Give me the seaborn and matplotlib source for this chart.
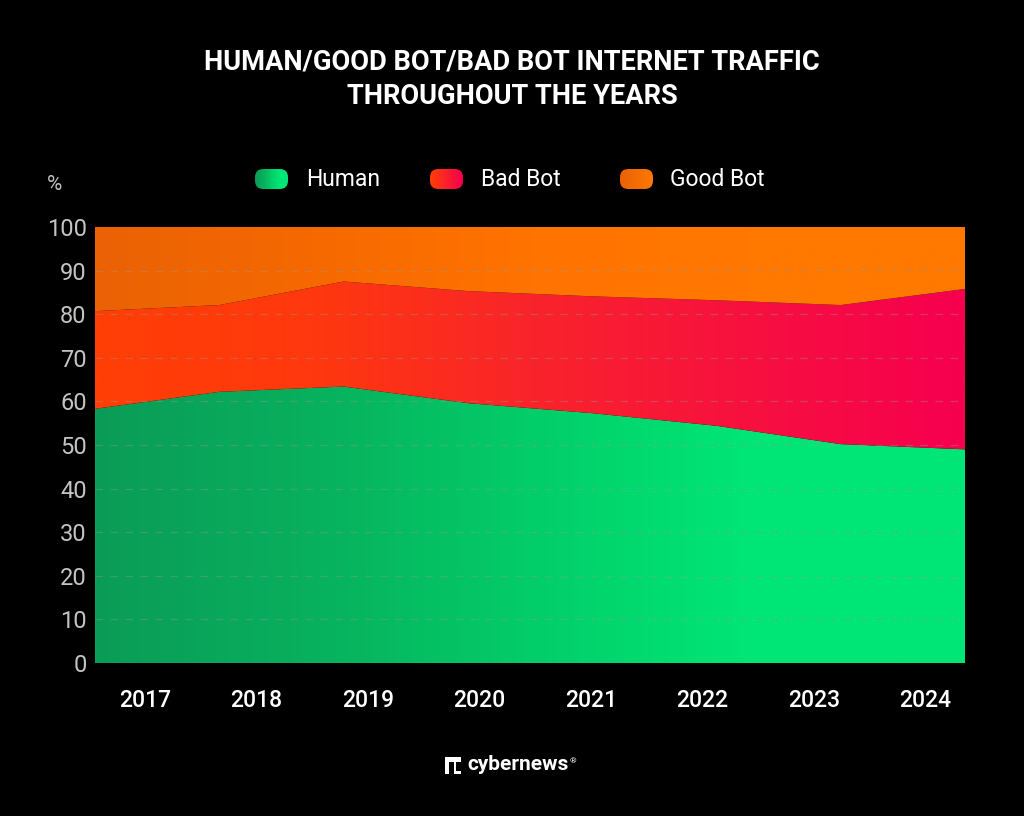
import numpy as np
import matplotlib
matplotlib.use("Agg")
import matplotlib.pyplot as plt
import seaborn as sns
from matplotlib.colors import LinearSegmentedColormap
from matplotlib.patches import FancyBboxPatch, Rectangle

# Data
years = ["2017", "2018", "2019", "2020", "2021", "2022", "2023", "2024"]
human = [58.3, 62.2, 63.4, 59.6, 57.3, 54.4, 50.2, 49.0]
bad_bot = [22.4, 19.9, 24.1, 25.7, 26.8, 28.8, 31.9, 36.8]
good_bot = [round(100 - h - b, 1) for h, b in zip(human, bad_bot)]
series_names = ["Human", "Bad Bot", "Good Bot"]
yticks = list(range(0, 101, 10))

# Gradient colours per series (left -> right)
grad_human = ["#0b9c56", "#08b05d", "#03cd69", "#00e676", "#00e676"]
grad_bad = ["#ff3f06", "#ff380e", "#f9242a", "#f7103f", "#f6004f"]
grad_good = ["#ea6206", "#f66900", "#ff7300", "#ff7800", "#ff7800"]
gradients = [grad_human, grad_bad, grad_good]

sns.set_theme(style="dark")
plt.rcParams['font.family'] = ['Roboto', 'DejaVu Sans']

fig = plt.figure(figsize=(10.24, 8.16), dpi=100, facecolor="black")
ax = fig.add_axes([95 / 1024, 1 - 663 / 816, 870 / 1024, 436 / 816])
ax.set_facecolor("black")

x = np.arange(len(years))
polys = ax.stackplot(x, human, bad_bot, good_bot, labels=series_names, linewidth=0)

ax.set_xlim(0, len(years) - 1)
ax.set_ylim(0, 100)

# paint each band with a horizontal gradient clipped to its polygon
for poly, stops in zip(polys, gradients):
    poly.set_facecolor("none")
    cmap = LinearSegmentedColormap.from_list("g", stops)
    grad = np.linspace(0, 1, 512).reshape(1, -1)
    im = ax.imshow(grad, cmap=cmap, aspect="auto", extent=[0, len(years) - 1, 0, 100],
                   origin="lower", zorder=1)
    im.set_clip_path(poly.get_paths()[0], ax.transData)

ax.set_xlim(0, len(years) - 1)
ax.set_ylim(0, 100)

# dashed gridlines drawn over the areas
for v in yticks[1:-1]:
    ax.axhline(v, color="#9a9a9a", alpha=0.35, lw=0.9, ls=(0, (6, 6)), zorder=3)

ax.set_yticks(yticks)
ax.set_yticklabels([str(v) for v in yticks], color="#c4c4c4", fontsize=17)
ax.set_xticks(np.linspace(0.4, 6.68, len(years)))
ax.set_xticklabels(years, color="white", fontsize=16.5, fontweight="medium")
ax.tick_params(axis="x", length=0, pad=19)
ax.tick_params(axis="y", length=0, pad=6)
for s in ax.spines.values():
    s.set_visible(False)
ax.grid(False)

# title
fig.text(0.5, 1 - 62 / 816, "HUMAN/GOOD BOT/BAD BOT INTERNET TRAFFIC", color="white",
         fontsize=19.6, fontweight="bold", ha="center", va="center")
fig.text(0.5, 1 - 97 / 816, "THROUGHOUT THE YEARS", color="white",
         fontsize=19.6, fontweight="bold", ha="center", va="center")

# "%" unit label
fig.text(55 / 1024, 1 - 185 / 816, "%", color="#c4c4c4", fontsize=15, ha="center", va="center")

# custom legend with gradient swatches
leg_y = 179
leg_items = [(255, 306, grad_human), (430, 481, [grad_bad[0], grad_bad[-1]]),
             (620, 670, [grad_good[0], grad_good[-1]])]
for (px, tx, stops), name in zip(leg_items, series_names):
    x0, y0 = px / 1024, 1 - (leg_y + 10) / 816
    w, h = 33 / 1024, 20 / 816
    lax = fig.add_axes([x0, y0, w, h])
    lax.set_axis_off()
    box = FancyBboxPatch((0, 0), 1, 1, boxstyle="round,pad=0,rounding_size=0.25",
                         transform=lax.transAxes, facecolor="none", edgecolor="none",
                         mutation_aspect=33 / 20)
    lax.add_patch(box)
    cmap = LinearSegmentedColormap.from_list("l", stops)
    lim = lax.imshow(np.linspace(0, 1, 64).reshape(1, -1), cmap=cmap, aspect="auto",
                     extent=[0, 1, 0, 1])
    lax.set_xlim(0, 1)
    lax.set_ylim(0, 1)
    lim.set_clip_path(box)
    fig.text(tx / 1024, 1 - (leg_y + 1) / 816, name, color="white", fontsize=16.5,
             ha="left", va="center")

# brand mark at the bottom
lx, ly = 445 / 1024, 1 - 774 / 816
fig.patches.append(Rectangle((lx, ly), 16 / 1024, 17 / 816, transform=fig.transFigure,
                             facecolor="white", edgecolor="none"))
fig.patches.append(Rectangle((lx + 4 / 1024, ly), 5 / 1024, 12 / 816, transform=fig.transFigure,
                             facecolor="black", edgecolor="none"))
fig.patches.append(Rectangle((lx + 11 / 1024, ly + 3 / 816), 5 / 1024, 9 / 816,
                             transform=fig.transFigure, facecolor="black", edgecolor="none"))
fig.text(467 / 1024, 1 - 765 / 816, "cybernews", color="white", fontsize=15,
         fontweight="bold", ha="left", va="center")
fig.text(570 / 1024, 1 - 761 / 816, "®", color="white", fontsize=6, ha="left", va="center")

fig.savefig("out.png", dpi=100, facecolor="black")
